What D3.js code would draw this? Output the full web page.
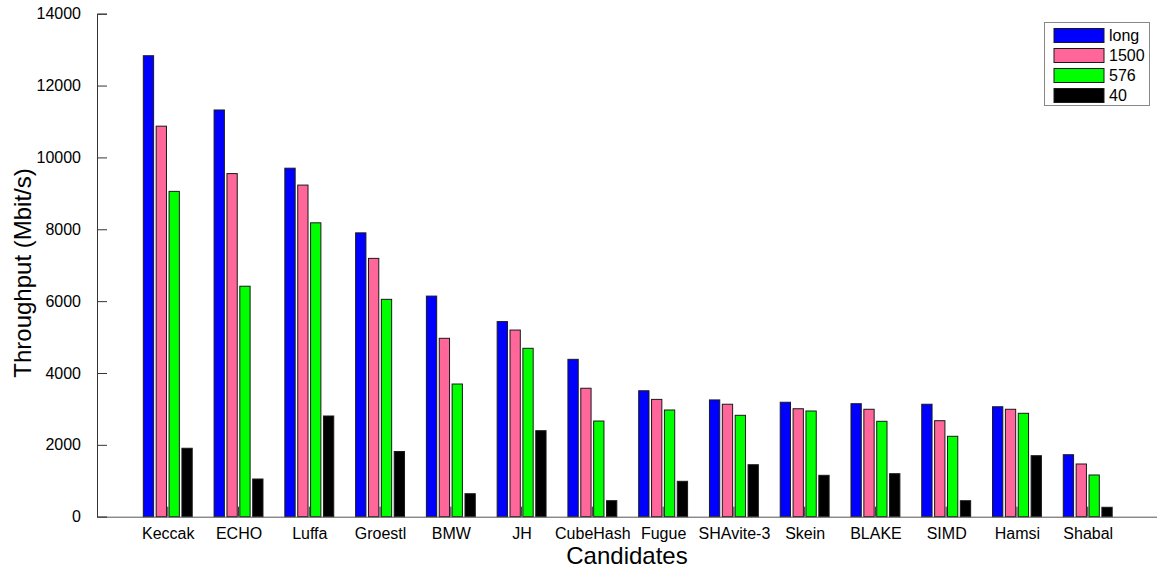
<!DOCTYPE html>
<html>
<head>
<meta charset="utf-8">
<script src="https://cdn.jsdelivr.net/npm/d3@7"></script>
<style>
  html, body { margin: 0; padding: 0; background: #fff; }
  svg { display: block; font-family: "Liberation Sans", Arial, sans-serif; }
</style>
</head>
<body>
<svg id="chart" width="1157" height="573"></svg>
<script>
// SHA-3 candidate throughput by message length
const categories = ["Keccak", "ECHO", "Luffa", "Groestl", "BMW", "JH", "CubeHash",
  "Fugue", "SHAvite-3", "Skein", "BLAKE", "SIMD", "Hamsi", "Shabal"];
const seriesNames = ["long", "1500", "576", "40"];
const longMsg = [12830, 11320, 9700, 7900, 6140, 5430, 4380, 3505, 3250, 3185, 3145, 3130, 3060, 1725];
const msg1500 = [10870, 9550, 9230, 7190, 4965, 5195, 3575, 3265, 3130, 3005, 2990, 2672, 2990, 1467];
const msg576 = [9055, 6415, 8180, 6050, 3693, 4687, 2663, 2970, 2822, 2942, 2655, 2238, 2878, 1161];
const msg40 = [1905, 1049, 2803, 1815, 640, 2394, 446, 985, 1447, 1152, 1197, 445, 1698, 262];
const yTicks = [0, 2000, 4000, 6000, 8000, 10000, 12000, 14000];
const colors = ["#0000ff", "#ff6699", "#00ff00", "#000000"];

const values = [longMsg, msg1500, msg576, msg40];
const svg = d3.select("#chart");

const x = d3.scaleLinear().domain([0, 15]).range([97, 1158.5]);
const y = d3.scaleLinear().domain([0, 14000]).range([516.7, 13.7]);
const unit = x(1) - x(0);
const groupW = 4 / 5.5; // grouped-bar width in category units
const xInner = d3.scaleBand().domain(seriesNames)
  .range([-groupW / 2 * unit, groupW / 2 * unit])
  .paddingInner(0.2).paddingOuter(0.1);

const axisColor = "#333";

// category ticks (pointing up into the plot, drawn behind the bars)
svg.append("g").selectAll("line").data(categories).join("line")
  .attr("x1", (d, i) => x(i + 1)).attr("x2", (d, i) => x(i + 1))
  .attr("y1", y(0)).attr("y2", y(0) - 10)
  .attr("stroke", axisColor).attr("stroke-width", 1);

// bars
const barG = svg.append("g");
categories.forEach((cat, i) => {
  seriesNames.forEach((s, j) => {
    const v = values[j][i];
    barG.append("rect")
      .attr("x", x(i + 1) + xInner(s))
      .attr("y", y(v))
      .attr("width", xInner.bandwidth())
      .attr("height", y(0) - y(v))
      .attr("fill", colors[j])
      .attr("stroke", "#1a1a1a")
      .attr("stroke-width", 1);
  });
});

// y axis
const yAxis = d3.axisLeft(y).tickValues(yTicks).tickSize(-10).tickPadding(16)
  .tickFormat(d3.format("d"));
const yg = svg.append("g").attr("transform", `translate(${x(0)},0)`).call(yAxis);
yg.select(".domain").attr("stroke", axisColor);
yg.selectAll(".tick line").attr("stroke", axisColor);
yg.selectAll(".tick text").attr("font-size", 16).attr("fill", "#000")
  .attr("font-family", "Liberation Sans, Arial, sans-serif");

// x axis line
const xAxis = d3.axisBottom(x).tickValues(d3.range(1, 15)).tickSize(0).tickPadding(11)
  .tickFormat((d) => categories[d - 1]);
const xg = svg.append("g").attr("transform", `translate(0,${y(0)})`).call(xAxis);
xg.select(".domain").attr("stroke", "#555");
xg.selectAll(".tick text").attr("font-size", 16).attr("fill", "#000")
  .attr("font-family", "Liberation Sans, Arial, sans-serif");

// axis titles
svg.append("text")
  .attr("x", 627).attr("y", 564)
  .attr("text-anchor", "middle").attr("font-size", 24)
  .text("Candidates");

svg.append("text")
  .attr("transform", "translate(31,273) rotate(-90)")
  .attr("text-anchor", "middle").attr("font-size", 24)
  .text("Throughput (Mbit/s)");

// legend
const lg = svg.append("g");
lg.append("rect")
  .attr("x", 1044.5).attr("y", 22.5).attr("width", 105).attr("height", 83)
  .attr("fill", "#fff").attr("stroke", "#888").attr("stroke-width", 1);
seriesNames.forEach((s, j) => {
  const cy = 35.5 + j * 20;
  lg.append("rect")
    .attr("x", 1054).attr("y", cy - 7).attr("width", 50).attr("height", 14)
    .attr("fill", colors[j]).attr("stroke", "#1a1a1a").attr("stroke-width", 1);
  lg.append("text")
    .attr("x", 1109).attr("y", cy + 1)
    .attr("dominant-baseline", "middle")
    .attr("font-size", 16)
    .text(s);
});
</script>
</body>
</html>
